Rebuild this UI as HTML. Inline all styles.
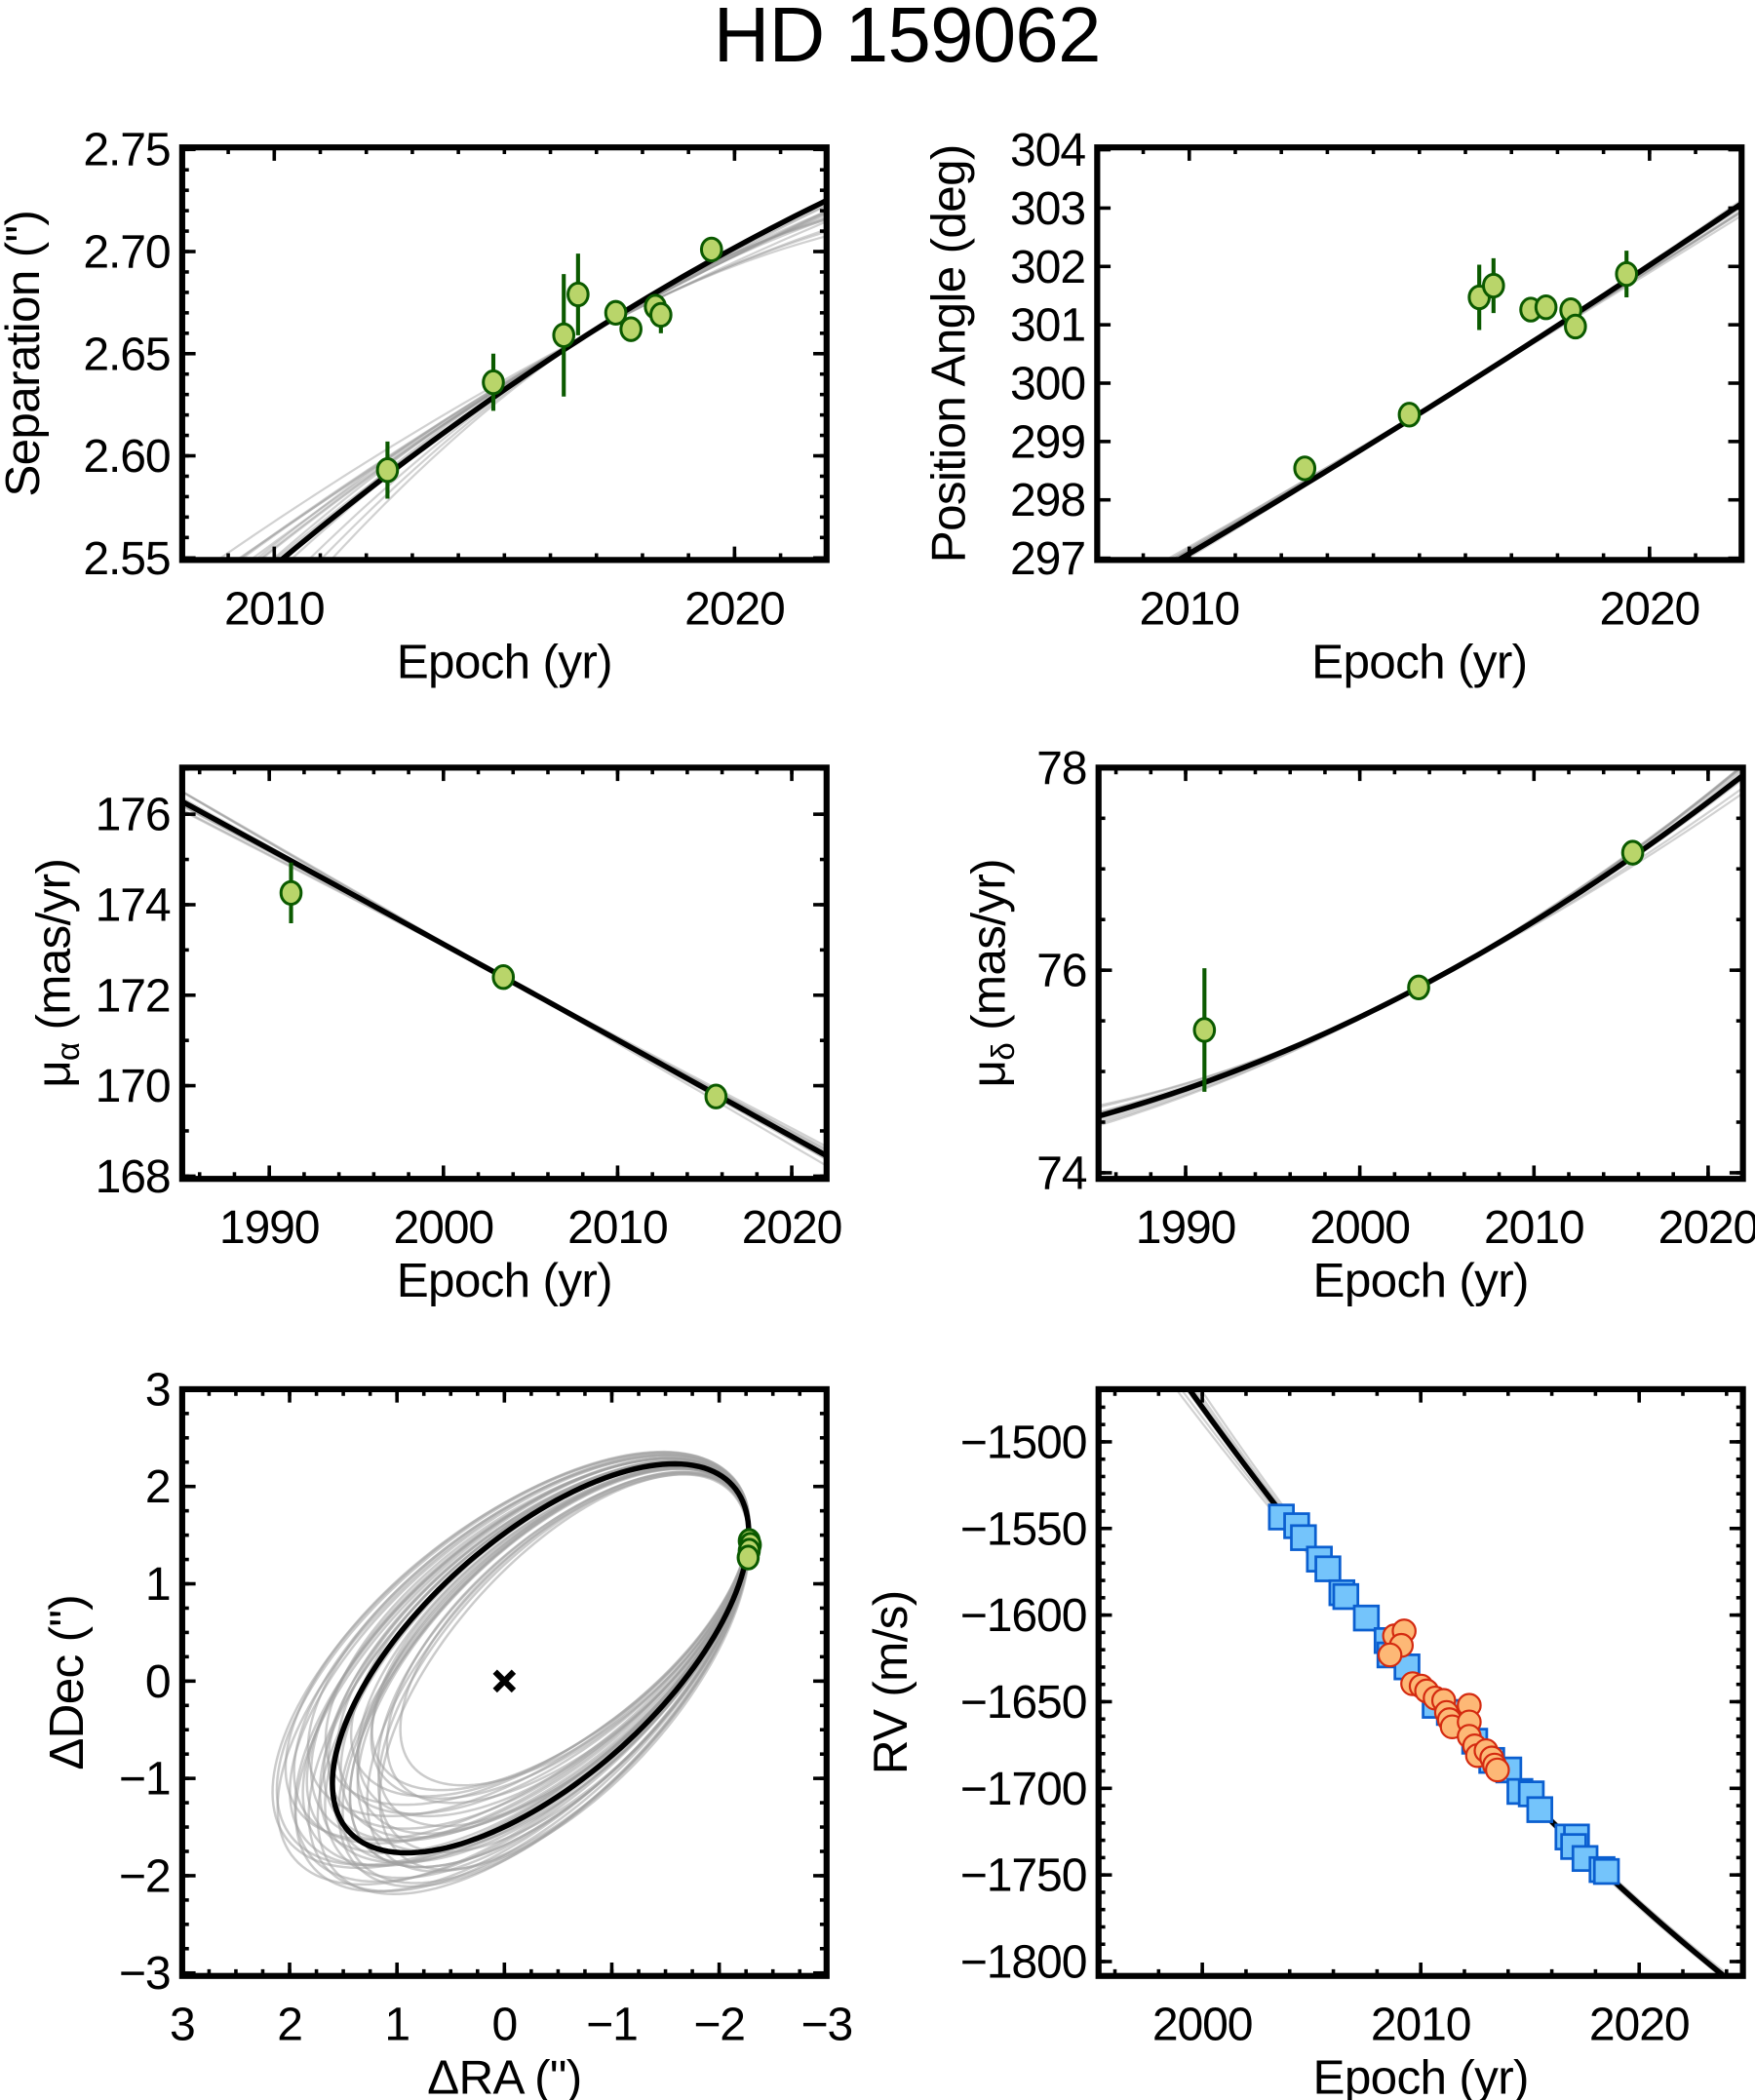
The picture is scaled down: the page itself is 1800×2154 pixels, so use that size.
<!DOCTYPE html>
<html><head><meta charset="utf-8">
<style>
html,body{margin:0;padding:0;background:#fff;}
svg{display:block;font-family:"Liberation Sans",Arial,sans-serif;}
</style></head>
<body>
<svg id="fig" xmlns="http://www.w3.org/2000/svg" width="1800" height="2154" viewBox="0 0 1310 1567.6">
<rect x="0" y="0" width="1310" height="1567.6" fill="#fff"/>
<text x="677" y="46" font-size="58" letter-spacing="-0.5" text-anchor="middle" fill="#000">HD 159062</text>
</svg>
<script>
// ---------- DATA ----------
const sepEpoch = [2012.46, 2014.76, 2016.29, 2016.60, 2017.42, 2017.75, 2018.28, 2018.40, 2019.50];
const sepValue = [2.593, 2.636, 2.659, 2.679, 2.670, 2.662, 2.673, 2.669, 2.701];
const sepErr   = [0.014, 0.014, 0.030, 0.020, 0.003, 0.003, 0.004, 0.009, 0.003];
const sepFitEpoch = [2010.15, 2016.3, 2022];
const sepFitValue = [2.549, 2.652, 2.725];
const sepSlopeDelta = [-0.0013,-0.001,-0.0007,-0.0004,0,-0.0016,-0.0019,-0.0012,-0.0022,-0.0025,0.0004,0.0008,-0.0009,-0.0005,-0.0015,-0.0018];
const sepCurvDelta  = [0,0.0001,-0.0002,0,-0.0003,0.0001,-0.0002,0,-0.0001,0.0001,-0.0004,-0.0005,0.0002,-0.0001,0.0001,-0.0003];
const paEpoch = [2012.51, 2014.78, 2016.30, 2016.61, 2017.42, 2017.75, 2018.29, 2018.39, 2019.50];
const paValue = [298.54, 299.46, 301.47, 301.67, 301.26, 301.30, 301.25, 300.97, 301.87];
const paErr   = [0.05, 0.05, 0.56, 0.47, 0.05, 0.05, 0.05, 0.13, 0.40];
const paFitEpoch = [2009.94, 2014.78, 2021.8];
const paFitValue = [297.05, 299.37, 302.97];
const paSlopeDelta = [-0.02,-0.015,-0.01,-0.005,-0.025,0.005,-0.012,-0.018,-0.008,0.01];
const paCurvDelta  = [0,-0.001,0,-0.0005,-0.0015,0,-0.002,-0.001,0.0005,0];
const pmraEpoch = [1991.25, 2003.44, 2015.65];
const pmraValue = [174.26, 172.40, 169.76];
const pmraErr   = [0.67, 0.05, 0.05];
const pmraFitEpoch = [1985, 2003.44, 2022];
const pmraFitValue = [176.28, 172.40, 168.45];
const pmraSlopeDelta = [-0.012,-0.008,-0.004,0,0.004,0.008,0.011,-0.006,0.002,0.006];
const pmraCurvDelta  = [0,0.0002,0,0.0001,0,-0.0001,0,0.0003,-0.0002,0.0001];
const pmdecEpoch = [1991.08, 2003.38, 2015.67];
const pmdecValue = [75.41, 75.83, 77.16];
const pmdecErr   = [0.61, 0.03, 0.03];
const pmdecFitEpoch = [1985, 2003.38, 2021.75];
const pmdecFitValue = [74.56, 75.83, 77.89];
const pmdecSlopeDelta = [0.004,0.002,0,-0.002,-0.003,0.003,0.001,-0.001,0.005,-0.004];
const pmdecCurvDelta  = [0,0.0002,0.0003,0,-0.0002,0.0001,-0.0001,0.0002,0,-0.0003];
const orbCenter = [-0.337, 0.234];
const orbAxisU = [-1.789, 1.775];
const orbAxisV = [-0.746, -0.919];
const orbRA  = [-2.28, -2.29, -2.28, -2.27];
const orbDec = [1.44, 1.40, 1.34, 1.27];
const orbScale = [0.82,0.86,0.88,0.9,0.92,0.94,0.95,0.96,0.97,0.98,0.99,1.0,1.01,1.02,1.03,1.04,1.05,1.06,1.07,1.08,1.09,1.1,1.11,1.12,0.93,0.97,1.03,1.06,1.0,0.95,0.91,0.99,1.04,1.08,0.87,1.02,1.1,0.96];
const orbRot   = [2,1,3,-1,2,0,4,-2,1,3,-3,2,-1,3,0,-2,4,1,-3,2,0,-1,3,1,-4,-5,-4,5,6,-6,5,-3,2,-2,4,-4,3,6];
const rvBlueEpoch = [2003.62,2004.32,2004.63,2005.36,2005.75,2006.39,2006.57,2007.51,2008.46,2008.59,2009.37,2010.66,2011.31,2012.47,2013.25,2014.03,2014.54,2015.06,2015.45,2016.74,2017.13,2017.0,2017.52,2018.30,2018.50];
const rvBlueValue = [-1543.4,-1548.4,-1555.3,-1567.7,-1573.3,-1587.1,-1589.3,-1601.7,-1614.7,-1623.0,-1629.9,-1652.1,-1656.2,-1672.8,-1683.9,-1689.4,-1701.8,-1703.2,-1712.3,-1728.1,-1728.1,-1733.6,-1740.5,-1746.9,-1748.0];
const rvOrangeEpoch = [2008.80,2009.24,2009.11,2008.59,2009.63,2010.02,2010.27,2010.66,2011.05,2011.18,2011.31,2011.44,2012.22,2012.22,2012.22,2012.47,2012.60,2012.99,2013.25,2013.38,2013.51];
const rvOrangeValue = [-1612.0,-1609.2,-1617.5,-1623.0,-1639.6,-1641.0,-1643.8,-1647.9,-1649.3,-1656.2,-1660.4,-1664.5,-1652.1,-1661.7,-1670.0,-1675.5,-1681.1,-1678.3,-1682.5,-1686.6,-1689.4];
const rvFitEpoch = [1999.4, 2009.4, 2023.6];
const rvFitValue = [-1469.6, -1630.0, -1805.5];
const rvSlopeDelta = [0.3,-0.3,0.5,-0.5,0.2,-0.2];
const rvCurvDelta  = [-0.02,0.02,-0.03,0.03,0,0.01];

// ---------- HELPERS ----------
const NS = "http://www.w3.org/2000/svg";
const svg = document.getElementById('fig');
function mk(tag, attrs, parent){
  const e = document.createElementNS(NS, tag);
  for (const k in attrs) e.setAttribute(k, attrs[k]);
  (parent||svg).appendChild(e);
  return e;
}
function quad(xs, ys){
  return function(t){
    let s=0;
    for(let i=0;i<3;i++){
      let p=ys[i];
      for(let j=0;j<3;j++){ if(j!==i) p*=(t-xs[j])/(xs[i]-xs[j]); }
      s+=p;
    }
    return s;
  };
}
function fmtMinus(v, d){
  const s = Math.abs(v).toFixed(d);
  return (v<0 && Math.abs(v)>1e-9 ? "\u2212" : "") + s;
}
function makePanel(cfg){
  const g = mk('g', {});
  
  
  const b = cfg.box;
  const sx = v => b.x + (v - cfg.xd[0])/(cfg.xd[1]-cfg.xd[0])*b.w;
  const sy = v => b.y + (cfg.yd[1] - v)/(cfg.yd[1]-cfg.yd[0])*b.h;
  const clipId = 'clip-' + cfg.name;
  const cp = mk('clipPath', {id: clipId}, g);
  mk('rect', {x:b.x, y:b.y, width:b.w, height:b.h}, cp);
  const plot = mk('g', {'clip-path': 'url(#'+clipId+')'}, g);
  
  
  return {g, plot, sx, sy, b, cfg};
}
function drawAxes(P){
  const {g, sx, sy, b, cfg} = P;
  const tg = mk('g', {stroke:'#000', 'stroke-width':2.6}, g);
  
  
  const lo = Math.min(cfg.xd[0], cfg.xd[1]), hi = Math.max(cfg.xd[0], cfg.xd[1]);
  const eps = 1e-6;
  function ticksX(step, len){
    if(!step) return;
    for(let v=Math.ceil(lo/step-eps)*step; v<=hi+eps; v+=step){
      const x = sx(v);
      mk('line',{x1:x,y1:b.y+b.h,x2:x,y2:b.y+b.h-len},tg);
      mk('line',{x1:x,y1:b.y,x2:x,y2:b.y+len},tg);
    }
  }
  function ticksY(step, len){
    if(!step) return;
    for(let v=Math.ceil(cfg.yd[0]/step-eps)*step; v<=cfg.yd[1]+eps; v+=step){
      const y = sy(v);
      mk('line',{x1:b.x,y1:y,x2:b.x+len,y2:y},tg);
      mk('line',{x1:b.x+b.w,y1:y,x2:b.x+b.w-len,y2:y},tg);
    }
  }
  ticksX(cfg.xMinor, 5); ticksX(cfg.xMajor, 10);
  ticksY(cfg.yMinor, 5); ticksY(cfg.yMajor, 10);
  const fr = mk('rect',{x:b.x,y:b.y,width:b.w,height:b.h,fill:'none',stroke:'#000','stroke-width':4.5},g);
  
  
  for(const v of cfg.xLabels){
    const t = mk('text',{x:sx(v), y:b.y+b.h+48, 'font-size':35, 'letter-spacing':-0.8, 'text-anchor':'middle'}, g);
    
    
    t.textContent = fmtMinus(v, cfg.xDec||0);
  }
  for(const v of cfg.yLabels){
    const t = mk('text',{x:b.x-9, y:sy(v)+12, 'font-size':35, 'letter-spacing':-0.8, 'text-anchor':'end'}, g);
    
    
    t.textContent = fmtMinus(v, cfg.yDec||0);
  }
  const xt = mk('text',{x:b.x+b.w/2, y:b.y+b.h+88, 'font-size':36, 'letter-spacing':-0.5, 'text-anchor':'middle'}, g);
  
  
  xt.textContent = cfg.xTitle;
  const cy = b.y+b.h/2;
  const yt = mk('text',{x:cfg.yTitleX, y:cy, 'font-size':36, 'letter-spacing':-0.5, 'text-anchor':'middle', transform:'rotate(-90 '+cfg.yTitleX+' '+cy+')'}, g);
  
  
  if(cfg.yTitleSub){
    const a = mk('tspan',{},yt); a.textContent = '\u03bc';
    const s = mk('tspan',{'font-size':24, dy:7},yt); s.textContent = cfg.yTitleSub;
    const c = mk('tspan',{dy:-7},yt); c.textContent = ' (mas/yr)';
  } else yt.textContent = cfg.yTitle;
}
function drawModel(P, fitX, fitY, sd, cd, pivot){
  const f = quad(fitX, fitY);
  const lo = P.cfg.xd[0], hi = P.cfg.xd[1];
  const N = 80;
  for(let k=0;k<sd.length;k++){
    let d='';
    for(let i=0;i<=N;i++){
      const t = lo + (hi-lo)*i/N, dt=t-pivot;
      const v = f(t) + sd[k]*dt + cd[k]*dt*dt;
      d += (i?'L':'M') + P.sx(t).toFixed(2) + ' ' + P.sy(v).toFixed(2);
    }
    const p = mk('path',{d, fill:'none', stroke:'#999', 'stroke-opacity':0.45, 'stroke-width':1.6}, P.plot);
    
    
  }
  let d='';
  for(let i=0;i<=N;i++){
    const t = lo + (hi-lo)*i/N;
    d += (i?'L':'M') + P.sx(t).toFixed(2) + ' ' + P.sy(f(t)).toFixed(2);
  }
  const p = mk('path',{d, fill:'none', stroke:'#000', 'stroke-width':4}, P.plot);
  
  
}
function drawPoints(P, xs, ys, es){
  const gg = mk('g',{}, P.g);
  
  
  for(let i=0;i<xs.length;i++){
    const x=P.sx(xs[i]);
    const l = mk('line',{x1:x,x2:x,y1:P.sy(ys[i]-es[i]),y2:P.sy(ys[i]+es[i]),stroke:'#0b5a00','stroke-width':3},gg);
    
    
  }
  for(let i=0;i<xs.length;i++){
    const c = mk('ellipse',{cx:P.sx(xs[i]),cy:P.sy(ys[i]),rx:7.5,ry:8.5,fill:'#b9d56a',stroke:'#0b5a00','stroke-width':2.2},gg);
    
    
  }
}

const P1 = makePanel({name:'separation-panel', box:{x:136,y:110,w:481,h:308}, xd:[2008,2022], yd:[2.549,2.751],
  xMajor:10, xMinor:1, yMajor:0.05, yMinor:0.01, xLabels:[2010,2020], yLabels:[2.55,2.60,2.65,2.70,2.75], yDec:2,
  xTitle:'Epoch (yr)', yTitle:'Separation (")', yTitleX:29});
drawModel(P1, sepFitEpoch, sepFitValue, sepSlopeDelta, sepCurvDelta, 2016.8);
drawAxes(P1);
drawPoints(P1, sepEpoch, sepValue, sepErr);

const P2 = makePanel({name:'position-angle-panel', box:{x:819,y:110,w:481,h:308}, xd:[2008,2022], yd:[296.97,304.04],
  xMajor:10, xMinor:1, yMajor:1, yMinor:0, xLabels:[2010,2020], yLabels:[297,298,299,300,301,302,303,304],
  xTitle:'Epoch (yr)', yTitle:'Position Angle (deg)', yTitleX:720});
drawModel(P2, paFitEpoch, paFitValue, paSlopeDelta, paCurvDelta, 2016);
drawAxes(P2);
drawPoints(P2, paEpoch, paValue, paErr);

const P3 = makePanel({name:'pm-ra-panel', box:{x:136,y:573,w:481,h:307}, xd:[1985,2022], yd:[167.94,177.03],
  xMajor:10, xMinor:2, yMajor:2, yMinor:1, xLabels:[1990,2000,2010,2020], yLabels:[168,170,172,174,176],
  xTitle:'Epoch (yr)', yTitleSub:'\u03b1', yTitleX:52});
drawModel(P3, pmraFitEpoch, pmraFitValue, pmraSlopeDelta, pmraCurvDelta, 2003.5);
drawAxes(P3);
drawPoints(P3, pmraEpoch, pmraValue, pmraErr);

const P4 = makePanel({name:'pm-dec-panel', box:{x:820,y:573,w:481,h:307}, xd:[1985,2022], yd:[73.94,78.0],
  xMajor:10, xMinor:2, yMajor:2, yMinor:0.5, xLabels:[1990,2000,2010,2020], yLabels:[74,76,78],
  xTitle:'Epoch (yr)', yTitleSub:'\u03b4', yTitleX:750});
drawModel(P4, pmdecFitEpoch, pmdecFitValue, pmdecSlopeDelta, pmdecCurvDelta, 2003.6);
drawAxes(P4);
drawPoints(P4, pmdecEpoch, pmdecValue, pmdecErr);

const P5 = makePanel({name:'orbit-panel', box:{x:136,y:1037,w:481,h:438}, xd:[3,-3], yd:[-3.03,3.0],
  xMajor:1, xMinor:0.25, yMajor:1, yMinor:0.25, xLabels:[3,2,1,0,-1,-2,-3], yLabels:[-3,-2,-1,0,1,2,3],
  xTitle:'\u0394RA (")', yTitle:'\u0394Dec (")', yTitleX:62});
(function(){
  const N=160;
  const pts=[];
  let anchor=0;
  for(let i=0;i<=N;i++){
    const t=2*Math.PI*i/N;
    const ra = orbCenter[0] + orbAxisU[0]*Math.cos(t) + orbAxisV[0]*Math.sin(t);
    const de = orbCenter[1] + orbAxisU[1]*Math.cos(t) + orbAxisV[1]*Math.sin(t);
    pts.push([P5.sx(ra), P5.sy(de)]);
    if(pts[i][0] > pts[anchor][0]) anchor=i;
  }
  const A = pts[anchor];
  for(let k=0;k<orbScale.length;k++){
    const s=orbScale[k], r=orbRot[k]*Math.PI/180, c=Math.cos(r), sn=Math.sin(r);
    let d='';
    pts.forEach((p,i)=>{
      const dx=p[0]-A[0], dy=p[1]-A[1];
      const x=A[0]+s*(c*dx-sn*dy), y=A[1]+s*(sn*dx+c*dy);
      d+=(i?'L':'M')+x.toFixed(2)+' '+y.toFixed(2);
    });
    const p = mk('path',{d:d+'Z', fill:'none', stroke:'#a0a0a0', 'stroke-opacity':0.55, 'stroke-width':1.8}, P5.plot);
    
    
  }
  let d='';
  pts.forEach((p,i)=>{ d+=(i?'L':'M')+p[0].toFixed(2)+' '+p[1].toFixed(2); });
  const bo = mk('path',{d:d+'Z', fill:'none', stroke:'#000', 'stroke-width':4}, P5.plot);
  
  
  const cx=P5.sx(0), cy=P5.sy(0);
  const star = mk('path',{d:`M${cx-7} ${cy-7}L${cx+7} ${cy+7}M${cx-7} ${cy+7}L${cx+7} ${cy-7}`, stroke:'#000','stroke-width':4.5}, P5.g);
  
  
})();
drawAxes(P5);
drawPoints(P5, orbRA, orbDec, [0,0,0,0]);

const P6 = makePanel({name:'rv-panel', box:{x:820,y:1037,w:481,h:438}, xd:[1995.25,2024.75], yd:[-1808.3,-1469.6],
  xMajor:10, xMinor:2, yMajor:50, yMinor:10, xLabels:[2000,2010,2020], yLabels:[-1800,-1750,-1700,-1650,-1600,-1550,-1500],
  xTitle:'Epoch (yr)', yTitle:'RV (m/s)', yTitleX:677});
drawModel(P6, rvFitEpoch, rvFitValue, rvSlopeDelta, rvCurvDelta, 2011);
drawAxes(P6);
(function(){
  const gb = mk('g',{}, P6.g);
  
  
  for(let i=0;i<rvBlueEpoch.length;i++){
    const r = mk('rect',{x:P6.sx(rvBlueEpoch[i])-9,y:P6.sy(rvBlueValue[i])-9,width:18,height:18,fill:'#74c4fb',stroke:'#0b5fd0','stroke-width':2},gb);
    
    
  }
  const go = mk('g',{}, P6.g);
  
  
  for(let i=0;i<rvOrangeEpoch.length;i++){
    const c = mk('circle',{cx:P6.sx(rvOrangeEpoch[i]),cy:P6.sy(rvOrangeValue[i]),r:8.5,fill:'#fdb876',stroke:'#d42a10','stroke-width':1.6},go);
    
    
  }
})();
</script>
</body></html>
